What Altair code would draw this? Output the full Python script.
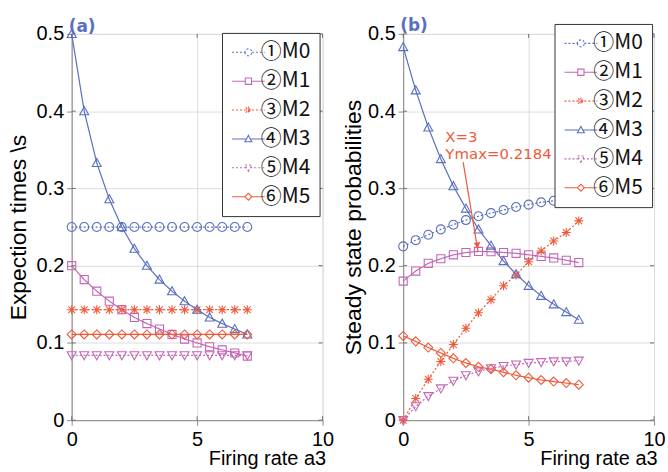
import altair as alt
import pandas as pd

# ---------------- data ----------------
rate = [0, 0.5, 1, 1.5, 2, 2.5, 3, 3.5, 4, 4.5, 5, 5.5, 6, 6.5, 7]
labels = ["①M0", "②M1", "③M2", "④M3", "⑤M4", "⑥M5"]

# (a) expection times
a_M0 = [0.25, 0.25, 0.25, 0.25, 0.25, 0.25, 0.25, 0.25, 0.25, 0.25, 0.25, 0.25, 0.25, 0.25, 0.25]
a_M1 = [0.200, 0.182, 0.167, 0.154, 0.143, 0.133, 0.125, 0.118, 0.111, 0.105, 0.100, 0.095, 0.091, 0.087, 0.083]
a_M2 = [0.143, 0.143, 0.143, 0.143, 0.143, 0.143, 0.143, 0.143, 0.143, 0.143, 0.143, 0.143, 0.143, 0.143, 0.143]
a_M3 = [0.500, 0.400, 0.333, 0.286, 0.250, 0.222, 0.200, 0.182, 0.167, 0.154, 0.143, 0.133, 0.125, 0.118, 0.111]
a_M4 = [0.084, 0.084, 0.084, 0.084, 0.084, 0.084, 0.084, 0.084, 0.084, 0.084, 0.084, 0.084, 0.084, 0.084, 0.084]
a_M5 = [0.111, 0.111, 0.111, 0.111, 0.111, 0.111, 0.111, 0.111, 0.111, 0.111, 0.111, 0.111, 0.111, 0.111, 0.111]

# (b) steady state probabilities
b_M0 = [0.225, 0.233, 0.240, 0.247, 0.253, 0.259, 0.264, 0.268, 0.272, 0.276, 0.279, 0.282, 0.284, 0.286, 0.287]
b_M1 = [0.180, 0.193, 0.203, 0.209, 0.214, 0.217, 0.2184, 0.218, 0.217, 0.216, 0.214, 0.212, 0.210, 0.207, 0.204]
b_M2 = [0.000, 0.028, 0.053, 0.076, 0.098, 0.119, 0.139, 0.156, 0.174, 0.188, 0.205, 0.219, 0.232, 0.243, 0.258]
b_M3 = [0.483, 0.427, 0.379, 0.338, 0.303, 0.274, 0.247, 0.226, 0.206, 0.189, 0.174, 0.161, 0.150, 0.140, 0.130]
b_M4 = [0.000, 0.018, 0.031, 0.041, 0.051, 0.058, 0.063, 0.067, 0.070, 0.072, 0.074, 0.075, 0.076, 0.076, 0.077]
b_M5 = [0.109, 0.102, 0.094, 0.087, 0.080, 0.074, 0.069, 0.066, 0.062, 0.058, 0.055, 0.052, 0.050, 0.048, 0.046]

x_ticks = [0, 5, 10]
y_ticks = [0, 0.1, 0.2, 0.3, 0.4, 0.5]

annot_x = [1.68, 1.68]
annot_y = [0.360, 0.338]
annot_text = ["X=3", "Ymax=0.2184"]
arrow_from = [2.39, 0.334]
arrow_to = [2.98, 0.2184]

# ---------------- style ----------------
BLUE = "#5a6fc0"
MAG = "#c466b6"
RED = "#ee5a3a"
colors = [BLUE, MAG, RED, BLUE, MAG, RED]
dashes = [[2, 2], [1, 0], [2, 2], [1, 0], [2, 2], [1, 0]]
FONT = "DejaVu Sans"
LEG_FONT = "Noto Sans CJK SC"

circle = "M-1,0A1,1 0 1,0 1,0A1,1 0 1,0 -1,0"
square = "M-0.9,-0.9H0.9V0.9H-0.9Z"
star = "M-1,0H1M0,-1V1M-0.75,-0.75L0.75,0.75M-0.75,0.75L0.75,-0.75"
tri_up = "M0,-1L1,0.8H-1Z"
tri_down = "M0,1L1,-0.8H-1Z"
diamond = "M0,-1L1,0L0,1L-1,0Z"
marker_paths = [circle, square, star, tri_up, tri_down, diamond]

L = 4.7
leg_paths = [
    f"M-{L},0H-1M1,0H{L}" + circle,
    f"M-{L},0H-0.9M0.9,0H{L}" + square,
    f"M-{L},0H{L}" + star,
    f"M-{L},0H-0.55M0.55,0H{L}" + tri_up,
    f"M-{L},0H-0.55M0.55,0H{L}" + tri_down,
    f"M-{L},0H-1M1,0H{L}" + diamond,
]

W, H = 252, 388


def long_df(cols):
    rows = []
    for lab, vals in zip(labels, cols):
        for xv, v in zip(rate, vals):
            rows.append({"rate": xv, "value": v, "series": lab})
    return pd.DataFrame(rows)


def panel(cols, ytitle, tag, lx, ly, ytitle_x, annotate=False):
    df = long_df(cols)
    xenc = alt.X("rate:Q", scale=alt.Scale(domain=[0, 10], nice=False),
                 axis=alt.Axis(values=x_ticks, title="Firing rate a3", labelFontSize=20,
                               labelPadding=4, labelFlush=False, titleFontSize=20,
                               titleFontWeight="normal",
                               titleAlign="right", titleX=W + 3, titleY=45,
                               titleBaseline="alphabetic"))
    yenc = alt.Y("value:Q", scale=alt.Scale(domain=[0, 0.5], nice=False),
                 axis=alt.Axis(values=y_ticks, title=ytitle, labelFontSize=20, labelPadding=3,
                               labelFlush=False, titleFontWeight="normal",
                               labelExpr="datum.value == 0 ? '0' : format(datum.value, '.1f')",
                               titleFontSize=23, titleX=ytitle_x))
    cscale = alt.Scale(domain=labels, range=colors)
    dscale = alt.Scale(domain=labels, range=dashes)

    lines = alt.Chart(df).mark_line(strokeWidth=1.2).encode(
        x=xenc, y=yenc,
        color=alt.Color("series:N", scale=cscale, legend=None),
        strokeDash=alt.StrokeDash("series:N", scale=dscale, legend=None),
        detail="series:N",
    )
    pts = alt.Chart(df).mark_point(filled=False, size=81, strokeWidth=1.1, opacity=1).encode(
        x="rate:Q", y="value:Q",
        color=alt.Color("series:N", scale=cscale, legend=None),
        shape=alt.Shape("series:N", scale=alt.Scale(domain=labels, range=marker_paths), legend=None),
    )
    leg = alt.Legend(orient="none", legendX=lx, legendY=ly, title=None, fillColor="white",
                     strokeColor="#333333", padding=9, labelFont=LEG_FONT, labelFontSize=21,
                     labelColor="#111111", symbolSize=49, symbolStrokeWidth=1.1,
                     rowPadding=7.0, symbolOffset=7, labelOffset=2, labelLimit=200)
    legend_layer = alt.Chart(df).transform_filter("false").mark_point(
        filled=False, opacity=1, strokeWidth=1.1).encode(
        x="rate:Q", y="value:Q",
        color=alt.Color("series:N", scale=alt.Scale(domain=labels, range=colors), legend=leg),
        shape=alt.Shape("series:N", scale=alt.Scale(domain=labels, range=leg_paths), legend=leg),
        strokeDash=alt.StrokeDash("series:N", scale=alt.Scale(domain=labels, range=dashes), legend=leg),
    )

    xt = pd.DataFrame({"rate": x_ticks})
    yt = pd.DataFrame({"value": y_ticks})
    tick_col = "#707070"
    tb = alt.Chart(xt).mark_rule(color=tick_col).encode(x="rate:Q", y=alt.value(H), y2=alt.value(H - 4))
    tt = alt.Chart(xt).mark_rule(color=tick_col).encode(x="rate:Q", y=alt.value(0), y2=alt.value(4))
    tl = alt.Chart(yt).mark_rule(color=tick_col).encode(y="value:Q", x=alt.value(0), x2=alt.value(4))
    tr = alt.Chart(yt).mark_rule(color=tick_col).encode(y="value:Q", x=alt.value(W), x2=alt.value(W - 4))

    layers = [tb, tt, tl, tr, lines, pts]
    if annotate:
        adf = pd.DataFrame({"rate": annot_x, "value": annot_y, "t": annot_text})
        txt = alt.Chart(adf).mark_text(align="left", baseline="alphabetic", font=FONT,
                                       fontSize=15, color=RED).encode(
            x="rate:Q", y="value:Q", text="t:N")
        ar = pd.DataFrame({"rate": [arrow_from[0]], "value": [arrow_from[1]],
                           "rate2": [arrow_to[0]], "value2": [arrow_to[1]]})
        rule = alt.Chart(ar).mark_rule(color=RED, strokeWidth=1.2).encode(
            x="rate:Q", y="value:Q", x2="rate2:Q", y2="value2:Q")
        head = pd.DataFrame({"rate": [arrow_to[0] - 0.02], "value": [arrow_to[1] + 0.008]})
        hd = alt.Chart(head).mark_point(shape="triangle-down", filled=True, size=45,
                                        color=RED, opacity=1, angle=351).encode(
            x="rate:Q", y="value:Q")
        layers += [txt, rule, hd]
    layers.append(legend_layer)

    return alt.layer(*layers).resolve_scale(
        color="independent", shape="independent", strokeDash="independent"
    ).properties(
        width=W, height=H,
        title=alt.TitleParams(tag, anchor="start", frame="group", fontSize=17,
                              fontWeight="bold", color=BLUE, font=FONT, offset=-12, dx=-3),
    )


left = panel([a_M0, a_M1, a_M2, a_M3, a_M4, a_M5], "Expection times \\s", "(a)", 151, -1, -41)
right = panel([b_M0, b_M1, b_M2, b_M3, b_M4, b_M5], "Steady state probabilities", "(b)", 152, -10, -38,
              annotate=True)

chart = alt.hconcat(left, right, spacing=81, bounds="flush").properties(
    padding={"left": 7, "top": 16, "right": 2, "bottom": 0}
).configure_view(stroke="#707070", strokeWidth=1.2).configure_axis(
    domain=False, ticks=False, grid=False, labelFont=FONT, titleFont=FONT,
    labelColor="#222222", titleColor="#222222", titleFontWeight="normal"
).configure(background="white")

chart.save("out.html", embed_options={"renderer": "svg", "actions": False})
